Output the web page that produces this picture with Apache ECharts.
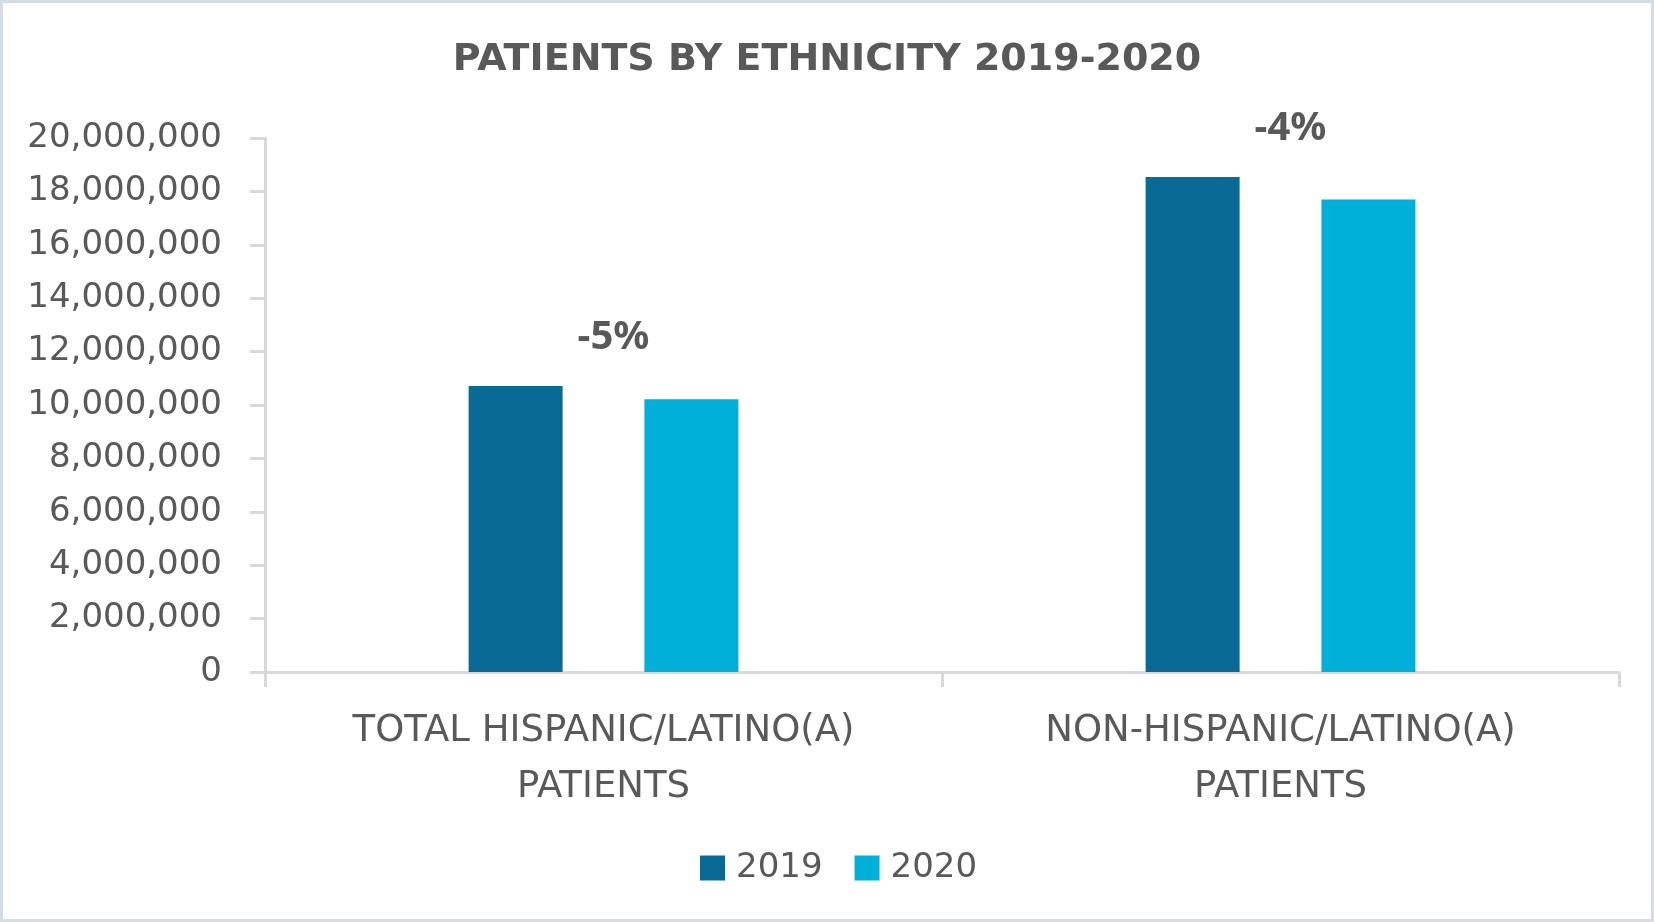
<!DOCTYPE html>
<html>
<head>
<meta charset="utf-8">
<script src="https://cdn.jsdelivr.net/npm/echarts@6.0.0/dist/echarts.min.js"></script>
<style>
html,body{margin:0;padding:0;background:#fff;}
#chart{width:1654px;height:922px;}
</style>
</head>
<body>
<div id="chart"></div>
<script>
const categories = ['TOTAL HISPANIC/LATINO(A)\nPATIENTS', 'NON-HISPANIC/LATINO(A)\nPATIENTS'];
const seriesNames = ['2019', '2020'];
const values2019 = [10710000, 18540000];
const values2020 = [10220000, 17700000];
const changeLabels = ['-5%', '-4%'];
const yMin = 0, yMax = 20000000, yInterval = 2000000;

const textColor = '#595959';
const axisColor = '#d9d9d9';

const chart = echarts.init(document.getElementById('chart'));
chart.setOption({
  animation: false,
  backgroundColor: '#ffffff',
  graphic: [{
    type: 'rect',
    shape: {x: 1.5, y: 1.5, width: 1651, height: 919},
    style: {fill: 'none', stroke: '#d6dce5', lineWidth: 3},
    silent: true
  }],
  title: {
    text: 'PATIENTS BY ETHNICITY 2019-2020',
    left: 'center',
    top: 36,
    textStyle: {fontFamily: 'DejaVu Sans', fontWeight: 'bold', fontSize: 38, color: textColor}
  },
  legend: {
    data: seriesNames,
    left: 695,
    top: 846,
    itemWidth: 25,
    itemHeight: 25,
    itemGap: 32,
    icon: 'rect',
    textStyle: {fontFamily: 'DejaVu Sans', fontSize: 34, color: textColor, padding: [0, 0, 0, 6]}
  },
  grid: {left: 265, right: 35, top: 138, bottom: 250, containLabel: false},
  xAxis: {
    type: 'category',
    data: categories,
    axisLine: {show: true, lineStyle: {color: axisColor, width: 3}},
    axisTick: {show: true, length: 15, lineStyle: {color: axisColor, width: 3}},
    axisLabel: {
      fontFamily: 'DejaVu Sans', fontSize: 37, color: textColor,
      lineHeight: 56, margin: 31, verticalAlign: 'top'
    }
  },
  yAxis: {
    type: 'value',
    min: yMin, max: yMax, interval: yInterval,
    splitLine: {show: false},
    axisLine: {show: true, lineStyle: {color: axisColor, width: 3}},
    axisTick: {show: true, length: 15, lineStyle: {color: axisColor, width: 3}},
    axisLabel: {
      fontFamily: 'DejaVu Sans', fontSize: 34, color: textColor, margin: 43,
      formatter: v => v.toLocaleString('en-US')
    }
  },
  series: [
    {name: seriesNames[0], type: 'bar', data: values2019, barWidth: 94, barGap: '87%',
     itemStyle: {color: '#0a6a96'}},
    {name: seriesNames[1], type: 'bar', data: values2020, barWidth: 94,
     itemStyle: {color: '#00b0d8'}},
    {name: 'change', type: 'scatter', data: values2019, symbolSize: 0, silent: true, clip: false,
     itemStyle: {opacity: 1},
     label: {
       show: true, position: 'top', distance: 28, offset: [10, 0],
       formatter: p => changeLabels[p.dataIndex],
       fontFamily: 'Noto Sans', fontWeight: 'bold', fontSize: 40, color: textColor, opacity: 1
     }}
  ]
});
</script>
</body>
</html>
